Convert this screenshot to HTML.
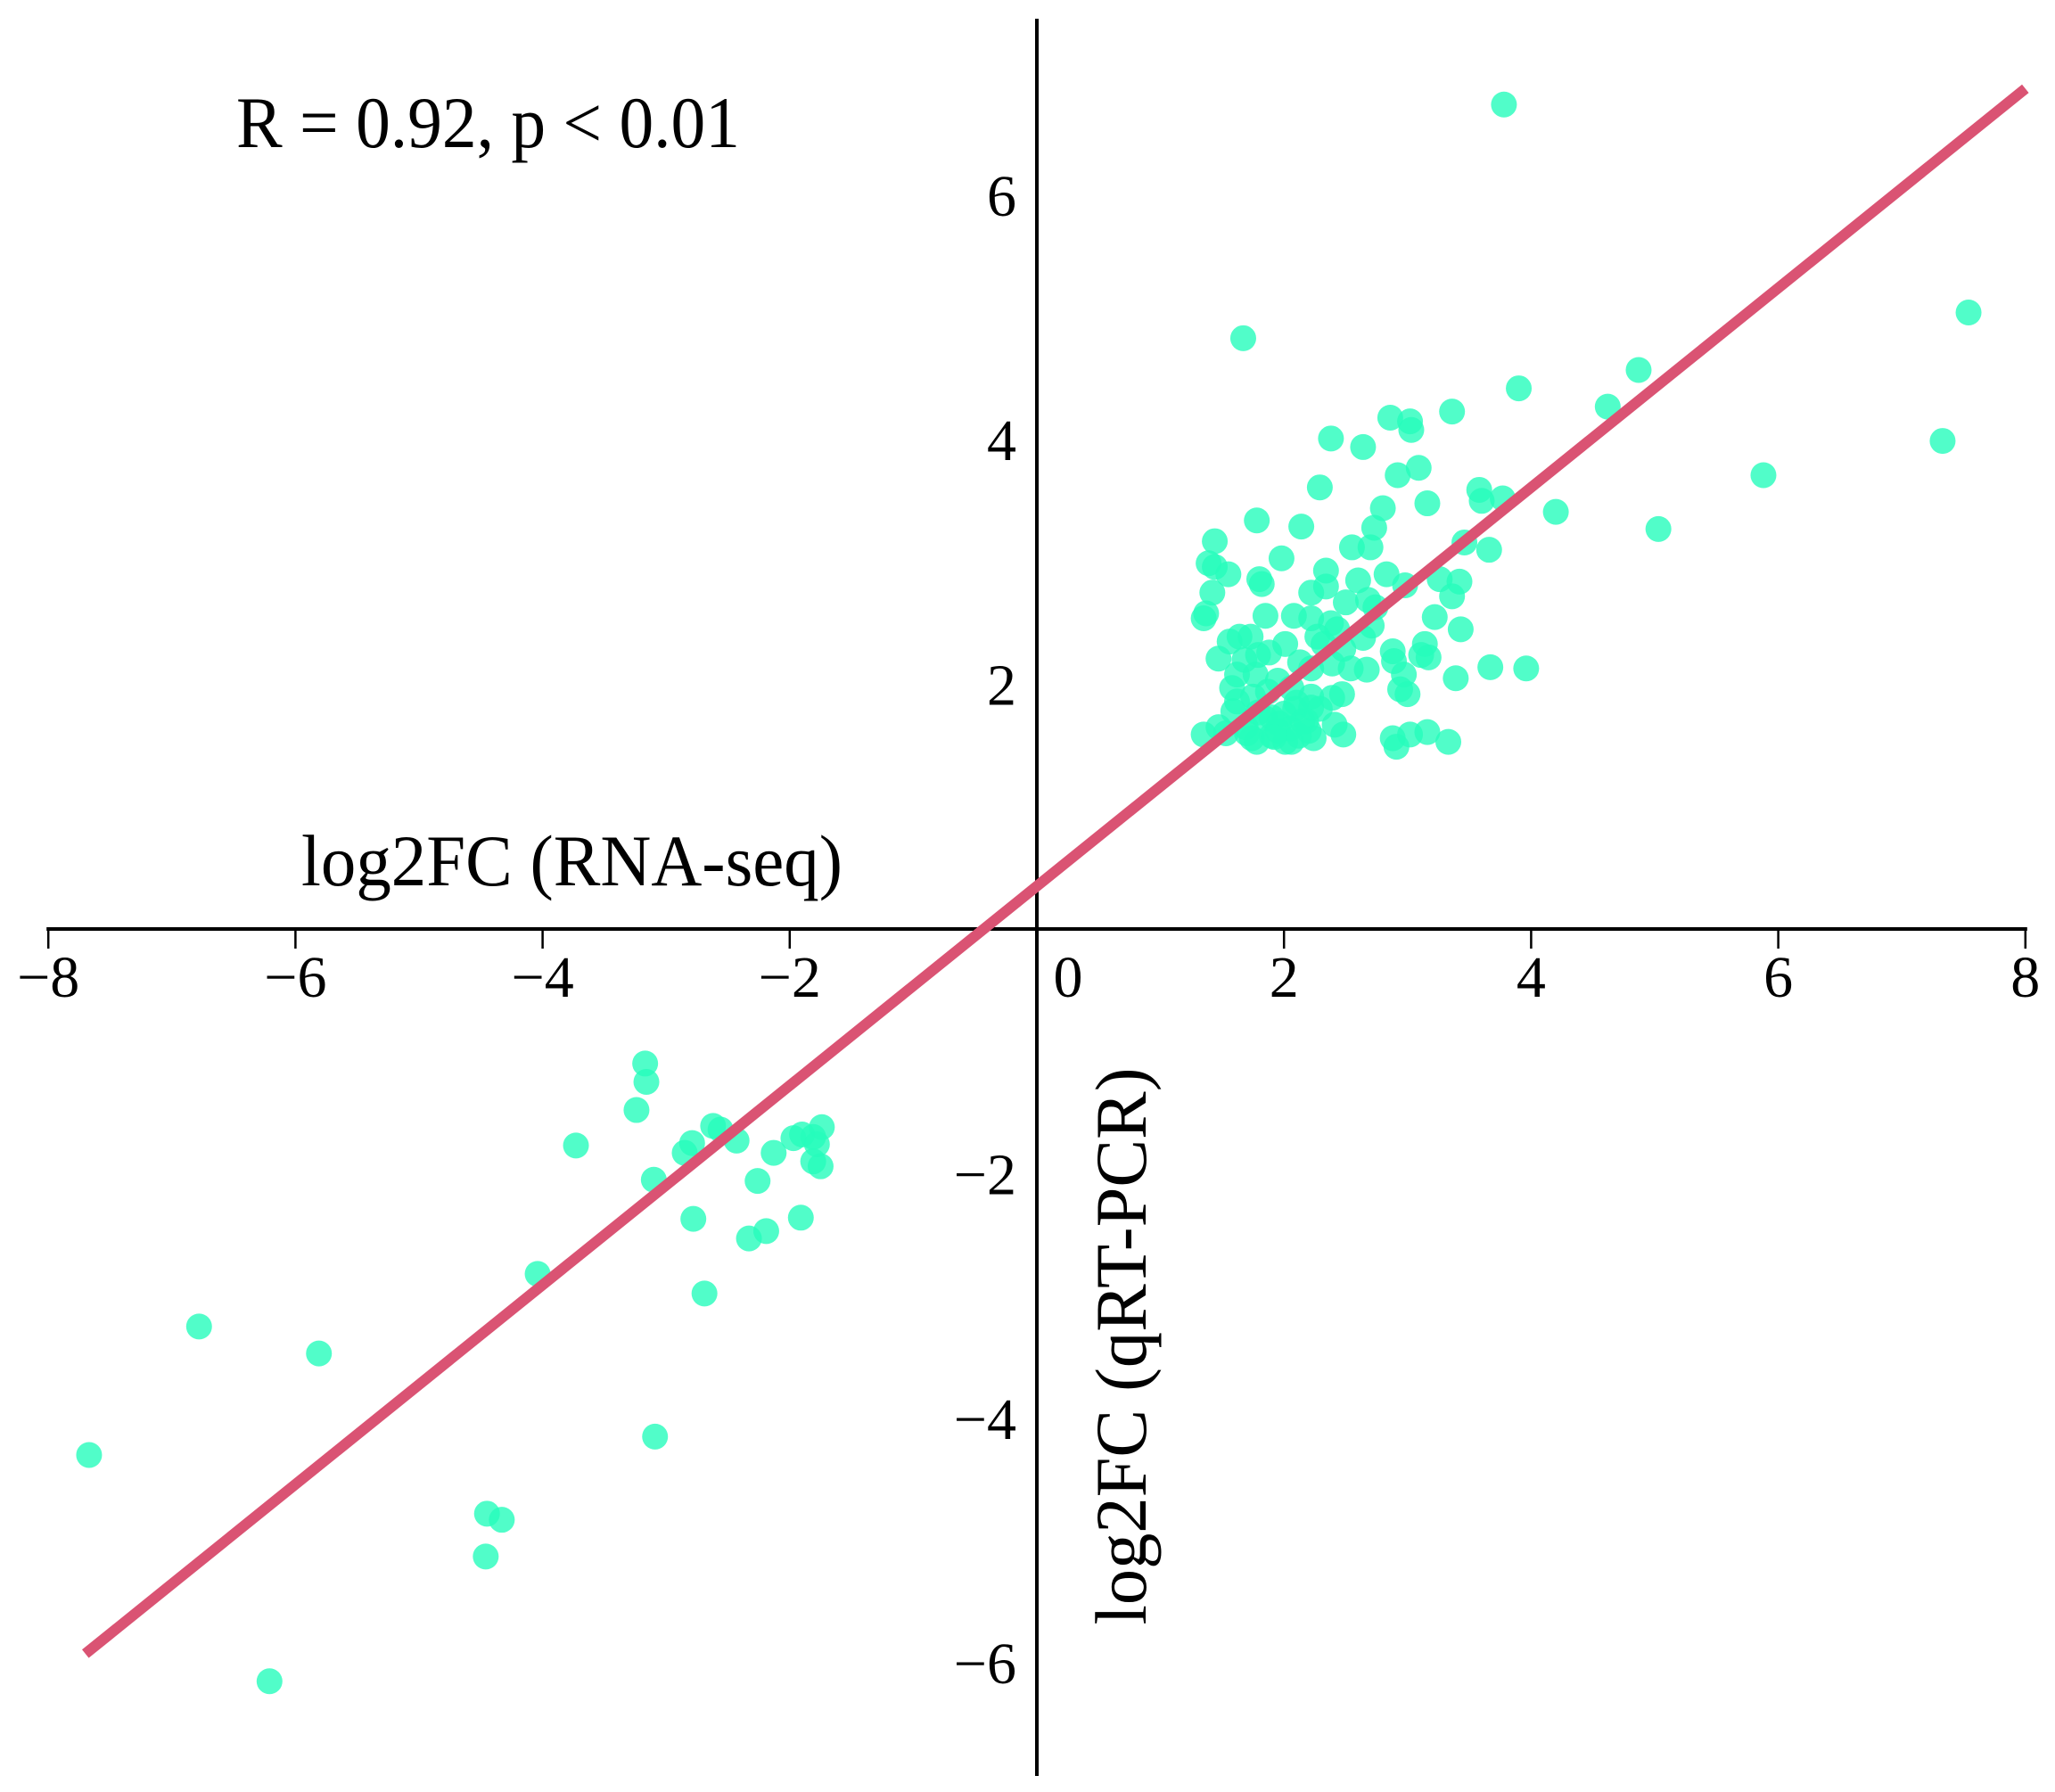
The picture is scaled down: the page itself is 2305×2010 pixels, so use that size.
<!DOCTYPE html>
<html><head><meta charset="utf-8"><style>
html,body{margin:0;padding:0;background:#fff;}
svg{display:block;font-family:"Liberation Serif",serif;}
</style></head><body>
<svg id="chart" width="2305" height="2010" viewBox="0 0 2305 2010" xmlns="http://www.w3.org/2000/svg">
<g id="points"></g>
<g id="axes"></g>
<g id="fit"></g>
<text x="265" y="165" font-size="82" textLength="565" lengthAdjust="spacingAndGlyphs">R = 0.92, p &lt; 0.01</text>
<text x="338" y="993" font-size="82" textLength="607" lengthAdjust="spacingAndGlyphs">log2FC (RNA-seq)</text>
<text transform="translate(1285,1510) rotate(-90)" text-anchor="middle" font-size="82" textLength="625" lengthAdjust="spacingAndGlyphs">log2FC (qRT-PCR)</text>
</svg>
<script>
const xTicks = [-8,-6,-4,-2,0,2,4,6,8];
const xTickLabels = ["\u22128","\u22126","\u22124","\u22122","0","2","4","6","8"];
const yTicks = [6,4,2,-2,-4,-6];
const yTickLabels = ["6","4","2","\u22122","\u22124","\u22126"];
const fitX = [-7.70, 8.0];
const fitSlope = 0.815;
const fitIntercept = 0.35;
const ptX = [-7.67,-6.78,-5.81,-6.21,-4.45,-4.33,-4.46,-4.04,-3.73,-3.17,-3.16,-3.24,-3.10,-3.09,-2.85,-2.79,-2.78,-2.69,-2.62,-2.56,-2.43,-2.33,-2.26,-2.19,-2.13,-1.97,-1.90,-1.81,-1.91,-1.81,-1.75,-1.74,-1.78,
3.78,1.67,7.54,7.33,5.88,5.03,4.87,4.62,3.90,4.20,3.36,2.86,3.02,3.03,2.38,2.64,3.09,2.92,2.29,3.16,3.58,3.77,3.60,2.80,2.73,1.78,2.14,1.44,1.39,1.44,1.55,1.98,2.55,2.70,3.46,3.66,2.34,2.83,1.80,1.82,2.60,2.34,2.22,3.42,1.42,2.98,3.26,3.36,2.50,2.68,2.74,1.37,1.35,1.85,2.22,2.08,2.38,2.43,2.71,2.64,3.22,3.43,1.64,1.56,1.73,2.27,2.32,2.48,3.14,1.47,1.68,1.79,1.88,2.01,2.13,2.88,2.89,3.11,3.17,2.39,2.54,2.22,2.67,2.97,3.67,3.96,3.39,1.62,1.77,1.95,1.58,1.62,1.75,1.87,2.06,2.22,2.39,2.47,2.94,3.00,1.59,1.79,1.90,2.09,2.22,2.29,1.47,1.69,1.96,2.18,2.41,1.35,1.53,1.74,1.90,2.06,2.24,2.48,2.88,3.02,3.16,3.33,2.91,1.78,2.01,
1.95,2.05,2.15,1.85,2.00,2.10,1.70,2.20,1.92,2.12];
const ptY = [-4.30,-3.25,-3.47,-6.15,-4.78,-4.83,-5.13,-2.82,-1.77,-1.10,-1.25,-1.48,-2.05,-4.15,-1.83,-1.75,-2.37,-2.98,-1.61,-1.64,-1.73,-2.53,-2.06,-2.47,-1.83,-1.71,-1.68,-1.70,-2.36,-1.90,-1.94,-1.62,-1.76,
6.74,4.83,5.04,3.99,3.71,3.27,4.57,4.27,4.42,3.41,4.23,4.18,4.15,4.08,4.01,3.94,3.77,3.71,3.61,3.48,3.59,3.52,3.50,3.44,3.28,3.34,3.29,3.17,2.99,2.96,2.90,3.03,3.12,3.12,3.16,3.10,2.93,2.90,2.86,2.82,2.85,2.80,2.75,2.84,2.75,2.81,2.86,2.72,2.67,2.69,2.63,2.58,2.54,2.56,2.54,2.56,2.50,2.45,2.48,2.38,2.55,2.45,2.39,2.35,2.39,2.39,2.33,2.29,2.33,2.21,2.20,2.24,2.26,2.33,2.18,2.27,2.19,2.24,2.22,2.17,2.13,2.13,2.12,2.08,2.14,2.13,2.05,2.08,2.08,2.03,1.97,1.86,1.90,1.94,1.97,1.90,1.89,1.92,1.96,1.92,1.78,1.77,1.73,1.80,1.81,1.80,1.65,1.65,1.68,1.70,1.67,1.59,1.60,1.56,1.58,1.53,1.56,1.59,1.56,1.59,1.61,1.53,1.49,1.53,1.53,
1.62,1.64,1.70,1.72,1.76,1.85,1.60,1.62,1.57,1.58];

const NS = "http://www.w3.org/2000/svg";
const X0 = 1163, XS = 138.6, Y0 = 1042, YS = 137.2;
function sx(v){ return X0 + v*XS; }
function sy(v){ return Y0 - v*YS; }
function mk(tag, attrs, parent){
  const e = document.createElementNS(NS, tag);
  for (const k in attrs) e.setAttribute(k, attrs[k]);
  parent.appendChild(e);
  return e;
}
const gp = document.getElementById('points');
for (let i=0;i<ptX.length;i++){
  const c = mk('circle',{cx:sx(ptX[i]),cy:sy(ptY[i]),r:14.5,fill:'rgb(38,252,187)','fill-opacity':0.8},gp);
  
  
}
const ga = document.getElementById('axes');
const xl = mk('line',{x1:sx(-8)-2,x2:sx(8)+2,y1:Y0,y2:Y0,stroke:'#000','stroke-width':4},ga);


const yl = mk('line',{x1:X0,x2:X0,y1:21,y2:1992,stroke:'#000','stroke-width':4},ga);


for (let i=0;i<xTicks.length;i++){
  const t = mk('line',{x1:sx(xTicks[i]),x2:sx(xTicks[i]),y1:Y0,y2:Y0+22,stroke:'#000','stroke-width':2.5},ga);
  
  
  const off = xTicks[i]===0 ? 35 : 0;
  const lb = mk('text',{x:sx(xTicks[i])+off,y:1118,'text-anchor':'middle','font-size':66},ga);
  lb.textContent = xTickLabels[i];
  
  
}
for (let i=0;i<yTicks.length;i++){
  const lb = mk('text',{x:1140,y:sy(yTicks[i])+23,'text-anchor':'end','font-size':66},ga);
  lb.textContent = yTickLabels[i];
  
  
}
const gf = document.getElementById('fit');
const fl = mk('line',{x1:sx(fitX[0]),y1:sy(fitSlope*fitX[0]+fitIntercept),x2:sx(fitX[1]),y2:sy(fitSlope*fitX[1]+fitIntercept),stroke:'#da5373','stroke-width':12},gf);


</script>
</body></html>
